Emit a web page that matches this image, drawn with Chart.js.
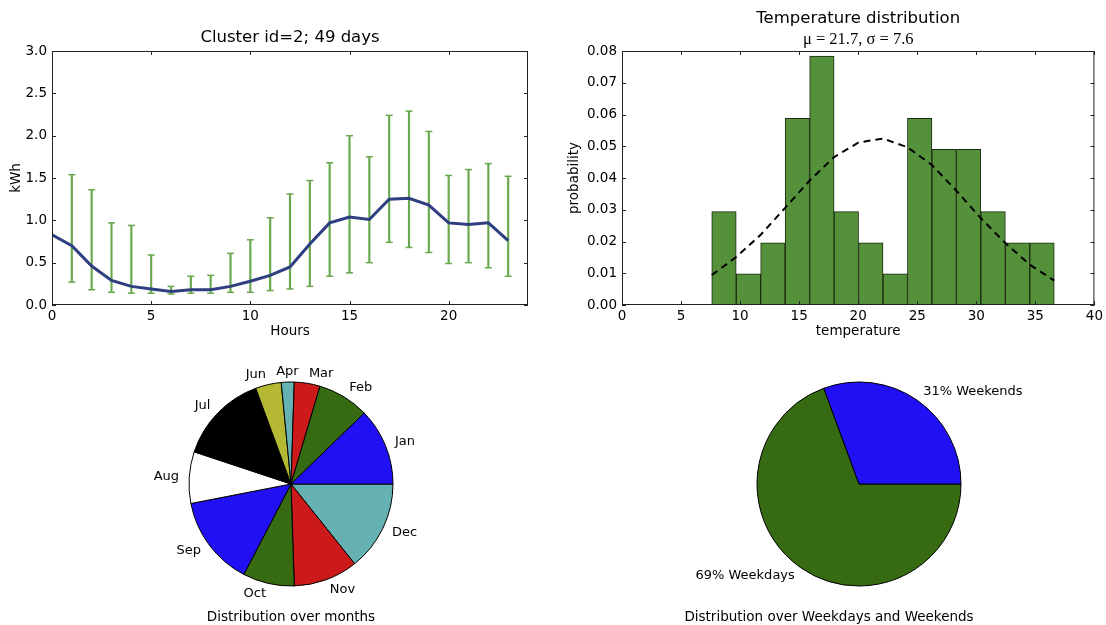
<!DOCTYPE html>
<html>
<head>
<meta charset="utf-8">
<script src="https://cdn.jsdelivr.net/npm/chart.js@4"></script>
<style>
  body { margin: 0; background: #fff; width: 1106px; height: 625px; position: relative; overflow: hidden; font-family: "DejaVu Sans", sans-serif; }
  canvas, .caption { position: absolute; }
  .caption { font-size: 13.5px; line-height: 16px; transform: translateX(-50%); white-space: nowrap; color: #000; }
</style>
</head>
<body>
<canvas id="hourly" width="553" height="340" style="left:0;top:0"></canvas>
<canvas id="tempHist" width="553" height="340" style="left:553px;top:0"></canvas>
<canvas id="monthPie" width="340" height="270" style="left:121px;top:349px"></canvas>
<canvas id="weekPie" width="400" height="270" style="left:659px;top:349px"></canvas>
<div class="caption" style="left:291px;top:608px">Distribution over months</div>
<div class="caption" style="left:829px;top:608px">Distribution over Weekdays and Weekends</div>
<script>
// hourly consumption profile
const hours = [0, 1, 2, 3, 4, 5, 6, 7, 8, 9, 10, 11, 12, 13, 14, 15, 16, 17, 18, 19, 20, 21, 22, 23];
const meanKwh = [0.83, 0.70, 0.46, 0.29, 0.22, 0.19, 0.16, 0.18, 0.18, 0.22, 0.28, 0.35, 0.45, 0.72, 0.97, 1.04, 1.01, 1.25, 1.26, 1.18, 0.97, 0.95, 0.97, 0.76];
const errHigh = [null, 1.54, 1.36, 0.97, 0.94, 0.59, 0.22, 0.34, 0.35, 0.61, 0.77, 1.03, 1.31, 1.47, 1.68, 2.00, 1.75, 2.24, 2.29, 2.05, 1.53, 1.60, 1.67, 1.52];
const errLow = [null, 0.27, 0.18, 0.15, 0.14, 0.14, 0.13, 0.14, 0.14, 0.15, 0.15, 0.17, 0.19, 0.22, 0.34, 0.38, 0.50, 0.74, 0.68, 0.62, 0.49, 0.50, 0.44, 0.34];
const hourTicks = [0, 5, 10, 15, 20];
const kwhTicks = [0, 0.5, 1.0, 1.5, 2.0, 2.5, 3.0];

// temperature histogram
const tempBinEdges = [7.60, 9.67, 11.74, 13.81, 15.89, 17.96, 20.03, 22.10, 24.17, 26.24, 28.31, 30.39, 32.46, 34.53, 36.60];
const tempProb = [0.0294, 0.0098, 0.0196, 0.0588, 0.0784, 0.0294, 0.0196, 0.0098, 0.0588, 0.0490, 0.0490, 0.0294, 0.0196, 0.0196];
const fitCurve = [0.0094, 0.0151, 0.0221, 0.0306, 0.0392, 0.0466, 0.0512, 0.0524, 0.0497, 0.0441, 0.0360, 0.0273, 0.0195, 0.0127, 0.0077];
const tempTicks = [0, 5, 10, 15, 20, 25, 30, 35, 40];
const probTicks = [0, 0.01, 0.02, 0.03, 0.04, 0.05, 0.06, 0.07, 0.08];

// pies
const months = ['Jan', 'Feb', 'Mar', 'Apr', 'Jun', 'Jul', 'Aug', 'Sep', 'Oct', 'Nov', 'Dec'];
const monthDays = [6, 4, 2, 1, 2, 7, 4, 7, 4, 5, 7];
const monthColors = ['#2210f5', '#376b12', '#cc1a1a', '#66b2b2', '#b4b832', '#000000', '#ffffff', '#2210f5', '#376b12', '#cc1a1a', '#66b2b2'];
const dayTypes = ['Weekends', 'Weekdays'];
const dayTypeCounts = [15, 34];
const dayTypeColors = ['#2210f5', '#376b12'];

Chart.defaults.font.family = '"DejaVu Sans"';
Chart.defaults.color = '#000';
Chart.defaults.animation = false;

// matplotlib-ish frame: box around plot + inward ticks on all sides
const mplAxes = {
    id: 'mplAxes',
    afterDatasetsDraw(chart) {
        const { ctx, chartArea: a, scales: { x, y } } = chart;
        ctx.save();
        ctx.strokeStyle = '#222';
        ctx.lineWidth = 1;
        ctx.beginPath();
        x.ticks.forEach(t => {
            const px = Math.round(x.getPixelForValue(t.value)) + 0.5;
            ctx.moveTo(px, a.bottom); ctx.lineTo(px, a.bottom - 4);
            ctx.moveTo(px, a.top); ctx.lineTo(px, a.top + 4);
        });
        y.ticks.forEach(t => {
            const py = Math.round(y.getPixelForValue(t.value)) + 0.5;
            ctx.moveTo(a.left, py); ctx.lineTo(a.left + 4, py);
            ctx.moveTo(a.right, py); ctx.lineTo(a.right - 4, py);
        });
        ctx.stroke();
        ctx.strokeRect(a.left + 0.5, a.top + 0.5, a.width - 1, a.height - 1);
        ctx.restore();
    }
};

// pie labels at 1.1 radius, like matplotlib
const pieLabels = {
    id: 'pieLabels',
    afterDatasetsDraw(chart, args, opts) {
        const ctx = chart.ctx;
        const meta = chart.getDatasetMeta(0);
        ctx.save();
        ctx.font = '13px "DejaVu Sans"';
        ctx.fillStyle = '#000';
        ctx.textBaseline = 'middle';
        meta.data.forEach((arc, i) => {
            const p = arc.getProps(['x', 'y', 'startAngle', 'endAngle', 'outerRadius'], true);
            const mid = (p.startAngle + p.endAngle) / 2;
            const c = Math.cos(mid);
            ctx.textAlign = Math.abs(c) < 0.1 ? 'center' : (c > 0 ? 'left' : 'right');
            ctx.fillText(opts.text[i], p.x + c * p.outerRadius * 1.1, p.y + Math.sin(mid) * p.outerRadius * 1.1);
        });
        ctx.restore();
    }
};

const tickFont = { size: 13.5 };
const titleFont = { size: 13.5 };

// ---- Chart 1: hourly profile with error bars
const errPts = hours.map((h, i) => ({ h, lo: errLow[i], hi: errHigh[i] })).filter(p => p.lo !== null);

new Chart(document.getElementById('hourly'), {
    type: 'line',
    data: {
        datasets: [{
            type: 'line',
            data: hours.map((h, i) => ({ x: h, y: meanKwh[i] })),
            borderColor: '#2f3e80',
            borderWidth: 3,
            pointRadius: 0,
            order: 0
        }, {
            type: 'bar',
            data: errPts.map(p => ({ x: p.h, y: [p.lo, p.hi] })),
            backgroundColor: '#6aa84f',
            barThickness: 1.5,
            order: 1
        }, {
            type: 'line',
            data: errPts.map(p => ({ x: p.h, y: p.hi })),
            showLine: false,
            pointStyle: 'line',
            pointRadius: 3.5,
            pointBorderWidth: 1.5,
            pointBorderColor: '#6aa84f',
            order: 1
        }, {
            type: 'line',
            data: errPts.map(p => ({ x: p.h, y: p.lo })),
            showLine: false,
            pointStyle: 'line',
            pointRadius: 3.5,
            pointBorderWidth: 1.5,
            pointBorderColor: '#6aa84f',
            order: 1
        }]
    },
    options: {
        responsive: false,
        events: [],
        layout: { padding: { top: 27.8, right: 25, left: 0, bottom: 0 } },
        plugins: {
            legend: { display: false },
            tooltip: { enabled: false },
            title: {
                display: true,
                text: 'Cluster id=2; 49 days',
                fullSize: false,
                font: { size: 16.5, weight: 'normal' },
                padding: { top: 0, bottom: 3.4 }
            }
        },
        scales: {
            x: {
                type: 'linear', min: 0, max: 24, offset: false,
                grid: { display: false, drawTicks: false },
                border: { display: false },
                afterBuildTicks: s => { s.ticks = hourTicks.map(v => ({ value: v })); },
                afterFit: s => { s.height = 35; },
                ticks: { font: tickFont, padding: 3, maxRotation: 0, callback: v => String(v) },
                title: { display: true, text: 'Hours', font: titleFont, padding: { top: 0, bottom: 0.9 } }
            },
            y: {
                type: 'linear', min: 0, max: 3,
                grid: { display: false, drawTicks: false },
                border: { display: false },
                afterBuildTicks: s => { s.ticks = kwhTicks.map(v => ({ value: v })); },
                afterFit: s => { s.width = 52; },
                ticks: { font: tickFont, padding: 5, callback: v => v.toFixed(1) },
                title: { display: true, text: 'kWh', font: titleFont, padding: { top: 7.9, bottom: 0 } }
            }
        }
    },
    plugins: [mplAxes]
});

// ---- Chart 2: temperature histogram + fitted normal
const binCenters = tempProb.map((p, i) => (tempBinEdges[i] + tempBinEdges[i + 1]) / 2);

new Chart(document.getElementById('tempHist'), {
    type: 'bar',
    data: {
        datasets: [{
            type: 'line',
            data: tempBinEdges.map((e, i) => ({ x: e, y: fitCurve[i] })),
            borderColor: '#000',
            borderWidth: 2,
            borderDash: [7, 5],
            pointRadius: 0,
            order: 0
        }, {
            type: 'bar',
            data: binCenters.map((c, i) => ({ x: c, y: tempProb[i] })),
            backgroundColor: '#55913a',
            borderColor: '#1c2a12',
            borderWidth: 1,
            borderSkipped: false,
            categoryPercentage: 1,
            barPercentage: 1,
            order: 1
        }]
    },
    options: {
        responsive: false,
        events: [],
        layout: { padding: { top: 8.4, right: 9, left: 0, bottom: 0 } },
        plugins: {
            legend: { display: false },
            tooltip: { enabled: false },
            title: {
                display: true,
                text: 'Temperature distribution',
                fullSize: false,
                font: { size: 16.5, weight: 'normal' },
                padding: { top: 0, bottom: 0 }
            },
            subtitle: {
                display: true,
                text: 'μ = 21.7, σ = 7.6',
                fullSize: false,
                color: '#000',
                font: { family: '"Liberation Serif"', size: 16.5 },
                padding: { top: 1.2, bottom: 1.8 }
            }
        },
        scales: {
            x: {
                type: 'linear', min: 0, max: 40, offset: false,
                grid: { display: false, drawTicks: false },
                border: { display: false },
                afterBuildTicks: s => { s.ticks = tempTicks.map(v => ({ value: v })); },
                afterFit: s => { s.height = 35; },
                ticks: { font: tickFont, padding: 3, maxRotation: 0, callback: v => String(v) },
                title: { display: true, text: 'temperature', font: titleFont, padding: { top: 0, bottom: 0.9 } }
            },
            y: {
                type: 'linear', min: 0, max: 0.08,
                grid: { display: false, drawTicks: false },
                border: { display: false },
                afterBuildTicks: s => { s.ticks = probTicks.map(v => ({ value: v })); },
                afterFit: s => { s.width = 69; },
                ticks: { font: tickFont, padding: 5, callback: v => v.toFixed(2) },
                title: { display: true, text: 'probability', font: titleFont, padding: { top: 12.9, bottom: 0 } }
            }
        }
    },
    plugins: [mplAxes]
});

// ---- Pies (matplotlib goes counter-clockwise from 3 o'clock, so reverse and rotate)
function pieConfig(labels, values, colors, text) {
    return {
        type: 'pie',
        data: {
            labels: labels.slice().reverse(),
            datasets: [{
                data: values.slice().reverse(),
                backgroundColor: colors.slice().reverse(),
                borderColor: '#000',
                borderWidth: 1,
                radius: 102,
                clip: false
            }]
        },
        options: {
            responsive: false,
            events: [],
            rotation: 90,
            layout: { padding: 0 },
            plugins: {
                legend: { display: false },
                tooltip: { enabled: false },
                pieLabels: { text: text.slice().reverse() }
            }
        },
        plugins: [pieLabels]
    };
}

new Chart(document.getElementById('monthPie'), pieConfig(months, monthDays, monthColors, months));

const dayTotal = dayTypeCounts.reduce((a, b) => a + b, 0);
const dayText = dayTypes.map((d, i) => Math.round(100 * dayTypeCounts[i] / dayTotal) + '% ' + d);
new Chart(document.getElementById('weekPie'), pieConfig(dayTypes, dayTypeCounts, dayTypeColors, dayText));
</script>
</body>
</html>
